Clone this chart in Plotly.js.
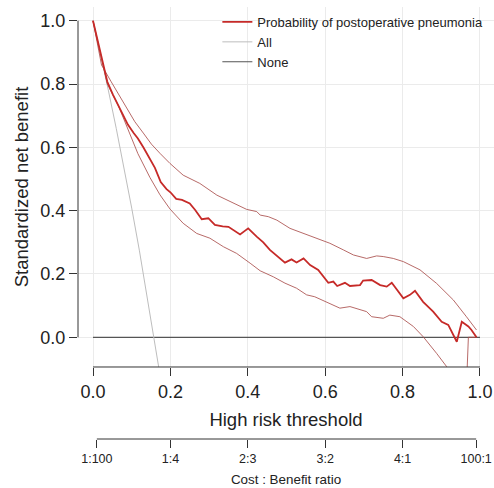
<!DOCTYPE html>
<html><head><meta charset="utf-8">
<script src="https://cdn.plot.ly/plotly-3.0.1.min.js"></script>
<style>html,body{margin:0;padding:0;background:#fff}#chart{width:494px;height:488px}</style>
</head><body><div id="chart"></div>
<script>
// High risk threshold / standardized net benefit
var modelT = [0,0.037,0.052,0.073,0.090,0.105,0.116,0.130,0.145,0.160,0.175,0.190,0.200,0.215,0.230,0.250,0.264,0.281,0.298,0.315,0.335,0.350,0.380,0.401,0.423,0.440,0.457,0.470,0.496,0.513,0.526,0.544,0.561,0.582,0.608,0.621,0.631,0.651,0.664,0.690,0.698,0.720,0.742,0.759,0.772,0.802,0.819,0.832,0.853,0.879,0.901,0.918,0.940,0.953,0.970,0.978,0.991];
var modelNB = [1.000,0.807,0.765,0.712,0.672,0.645,0.628,0.600,0.568,0.535,0.490,0.468,0.458,0.437,0.434,0.423,0.402,0.373,0.376,0.355,0.350,0.349,0.325,0.344,0.318,0.300,0.276,0.262,0.236,0.246,0.236,0.249,0.228,0.213,0.172,0.176,0.162,0.172,0.162,0.165,0.179,0.181,0.165,0.160,0.172,0.123,0.134,0.147,0.112,0.081,0.049,0.039,-0.014,0.049,0.034,0.023,0.000];

var upperT = [0,0.022,0.047,0.073,0.108,0.130,0.151,0.173,0.199,0.233,0.276,0.320,0.363,0.397,0.423,0.432,0.453,0.475,0.509,0.544,0.582,0.612,0.647,0.673,0.707,0.733,0.750,0.776,0.802,0.845,0.888,0.931,0.965,0.991];
var upperNB = [1.000,0.860,0.807,0.755,0.681,0.645,0.610,0.581,0.549,0.512,0.486,0.449,0.423,0.404,0.397,0.386,0.381,0.370,0.344,0.328,0.313,0.297,0.276,0.260,0.249,0.257,0.255,0.249,0.239,0.213,0.170,0.118,0.065,0.023];

var lowerT = [0,0.037,0.065,0.090,0.116,0.147,0.173,0.199,0.233,0.268,0.302,0.337,0.371,0.406,0.432,0.466,0.496,0.526,0.552,0.573,0.604,0.638,0.664,0.690,0.707,0.720,0.750,0.767,0.793,0.828,0.853,0.888,0.914,0.940,0.955,0.962,0.970,0.991];
var lowerNB = [1.000,0.800,0.733,0.655,0.580,0.505,0.450,0.405,0.360,0.328,0.313,0.286,0.265,0.234,0.210,0.191,0.171,0.155,0.134,0.128,0.112,0.092,0.097,0.086,0.081,0.065,0.060,0.070,0.065,0.034,0.002,-0.051,-0.093,-0.160,-0.250,-0.250,0.000,0.000];

var allT = [0,0.02,0.04,0.06,0.08,0.10,0.12,0.14,0.16,0.18];
var allNB = [1.000,0.891,0.778,0.660,0.536,0.408,0.273,0.132,-0.015,-0.170];

var noneT = [0,1];
var noneNB = [0,0];

var xTicks = [0,0.2,0.4,0.6,0.8,1.0];
var xTickText = ['0.0','0.2','0.4','0.6','0.8','1.0'];
var yTicks = [0,0.2,0.4,0.6,0.8,1.0];
var yTickText = ['0.0','0.2','0.4','0.6','0.8','1.0'];
var costTicks = [1/101,0.2,0.4,0.6,0.8,100/101];
var costTickText = ['1:100','1:4','2:3','3:2','4:1','100:1'];

var ciColor = 'rgba(170,80,78,0.85)';
var traces = [
  {x:noneT, y:noneNB, mode:'lines', name:'None', line:{color:'#555555', width:1.2}, legendrank:3},
  {x:allT, y:allNB, mode:'lines', name:'All', line:{color:'#bdbdbd', width:1}, legendrank:2},
  {x:lowerT, y:lowerNB, mode:'lines', showlegend:false, line:{color:ciColor, width:1}},
  {x:upperT, y:upperNB, mode:'lines', showlegend:false, line:{color:ciColor, width:1}},
  {x:modelT, y:modelNB, mode:'lines', name:'Probability of postoperative pneumonia', line:{color:'#c62a28', width:1.8}, legendrank:1},
  {x:[], y:[], xaxis:'x2', yaxis:'y2', mode:'lines', showlegend:false, hoverinfo:'skip'}
];

var fam = 'Liberation Sans, Arial, Helvetica, sans-serif';
var layout = {
  width:494, height:488,
  margin:{l:78, r:0, t:7, b:49},
  paper_bgcolor:'#ffffff', plot_bgcolor:'#ffffff',
  font:{family:fam, color:'#222222'},
  showlegend:true,
  legend:{x:0.335, y:1, xanchor:'left', yanchor:'top', bgcolor:'rgba(0,0,0,0)', font:{size:13, color:'#222'}, itemwidth:30, tracegroupgap:0},
  xaxis:{anchor:'y', range:[-0.0388,1.0362], tickmode:'array', tickvals:xTicks, ticktext:xTickText,
    ticks:'outside', ticklen:8, tickcolor:'#333', tickwidth:1, showline:false, showgrid:true, gridcolor:'#ebebeb', gridwidth:1, zeroline:false,
    tickfont:{size:18}, title:{text:'High risk threshold', font:{size:18.5}, standoff:12}},
  yaxis:{domain:[0.1667,1], range:[-0.0938,1.0432], tickmode:'array', tickvals:yTicks, ticktext:yTickText,
    ticks:'outside', ticklen:8, tickcolor:'#333', tickwidth:1, showline:false, showgrid:true, gridcolor:'#ebebeb', gridwidth:1, zeroline:false,
    tickfont:{size:18}, title:{text:'Standardized net benefit', font:{size:18.5}, standoff:6}},
  xaxis2:{anchor:'y2', range:[-0.0388,1.0362], tickmode:'array', tickvals:costTicks, ticktext:costTickText,
    ticks:'outside', ticklen:8, tickcolor:'#333', tickwidth:1, showline:false, showgrid:false, zeroline:false,
    tickfont:{size:12.5}, title:{text:'Cost : Benefit ratio', font:{size:13.4}, standoff:9}},
  yaxis2:{domain:[0,0.002], range:[0,1], visible:false, fixedrange:true},
  shapes:[
    {type:'line', xref:'x domain', yref:'y', x0:0, x1:0, y0:0, y1:1, line:{color:'#333', width:1}},
    {type:'line', xref:'x', yref:'y domain', x0:0, x1:1, y0:0, y1:0, line:{color:'#333', width:1}},
    {type:'line', xref:'x2', yref:'y2 domain', x0:costTicks[0], x1:costTicks[5], y0:0, y1:0, line:{color:'#333', width:1}}
  ]
};
Plotly.newPlot('chart', traces, layout, {displayModeBar:false, staticPlot:true});
</script></body></html>
